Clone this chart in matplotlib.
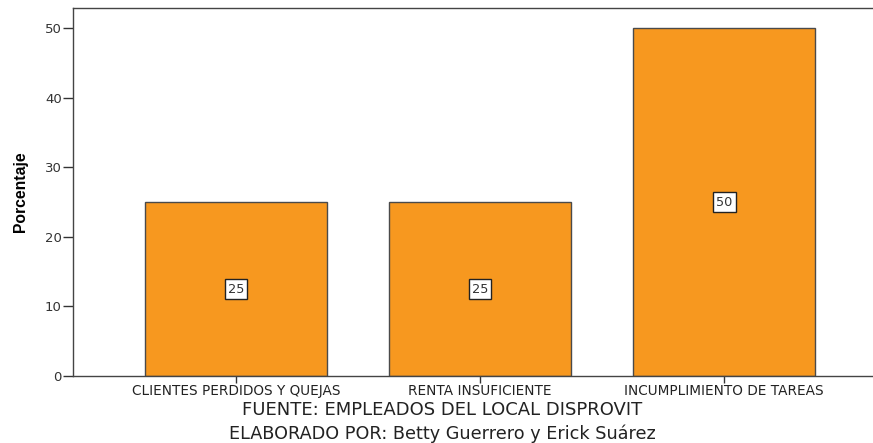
import matplotlib
matplotlib.use("Agg")
import matplotlib.pyplot as plt

categorias = ["CLIENTES PERDIDOS Y QUEJAS", "RENTA INSUFICIENTE", "INCUMPLIMIENTO DE TAREAS"]
porcentajes = [25, 25, 50]
etiquetas = ["25", "25", "50"]

plt.rcParams['font.family'] = ['DejaVu Sans']

fig = plt.figure(figsize=(8.73, 4.43), dpi=100)
ax = fig.add_axes([73/873, 67/443, 1 - 73/873 + 0.01, 368/443])

x = list(range(len(categorias)))
bars = ax.bar(x, porcentajes, width=0.746, color='#F7981F', edgecolor='#4a4a4a', linewidth=1.0, zorder=2)

for xi, v, t in zip(x, porcentajes, etiquetas):
    ax.text(xi, v / 2, t, ha='center', va='center', fontsize=9.3, color='#333333',
            bbox=dict(boxstyle='square,pad=0.25', facecolor='white', edgecolor='#222222', linewidth=1.0))

ax.set_xlim(-0.668, 2.646)
ax.set_ylim(0, 52.9)
ax.set_yticks([0, 10, 20, 30, 40, 50])
ax.set_xticks(x)
ax.set_xticklabels(categorias, fontsize=9.8, color='#222222')
ax.tick_params(axis='y', labelsize=9.5, length=7, width=1, color='#333333', pad=1, labelcolor='#333333')
ax.tick_params(axis='x', length=5, width=1, color='#333333', pad=1)

for s in ['left', 'bottom', 'top']:
    ax.spines[s].set_color('#444444')
    ax.spines[s].set_linewidth(1.0)
ax.spines['right'].set_visible(False)

ax.set_ylabel('Porcentaje', fontsize=11.3, fontweight='bold',
              family=['Liberation Sans', 'DejaVu Sans'], labelpad=12)

fig.text(442/873, 1 - 410/443, 'FUENTE: EMPLEADOS DEL LOCAL DISPROVIT', ha='center', va='center', fontsize=13, color='#222222')
fig.text(442/873, 1 - 434/443, 'ELABORADO POR: Betty Guerrero y Erick Suárez', ha='center', va='center', fontsize=12.7, color='#222222')

fig.savefig('out.png', dpi=100)
